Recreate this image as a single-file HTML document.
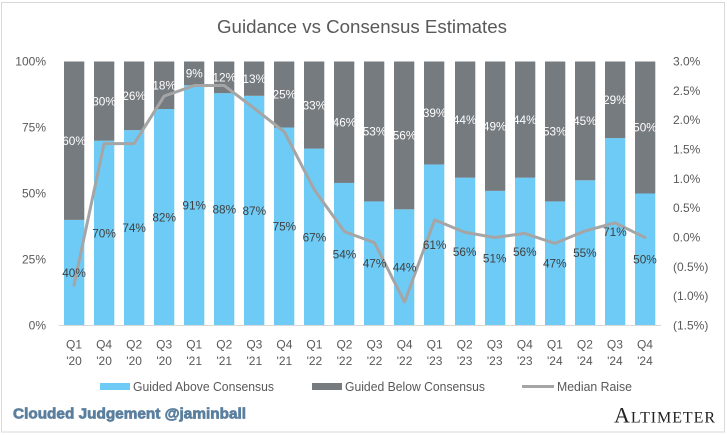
<!DOCTYPE html>
<html lang="en">
<head>
<meta charset="utf-8">
<title>Guidance vs Consensus Estimates</title>
<style>
html,body{margin:0;padding:0;background:#fff;}
body{width:727px;height:435px;overflow:hidden;}
svg{display:block;font-family:"Liberation Sans",sans-serif;}
</style>
</head>
<body>
<svg id="chart" width="727" height="435" viewBox="0 0 727 435" xmlns="http://www.w3.org/2000/svg">
  <rect x="0" y="0" width="727" height="435" fill="#ffffff"/>
  <rect x="1.5" y="2.5" width="723" height="429.5" fill="none" stroke="#d9d9d9" stroke-width="1"/>
  <text x="362" y="33" text-anchor="middle" font-size="18.5" fill="#595959" textLength="290" lengthAdjust="spacingAndGlyphs">Guidance vs Consensus Estimates</text>
  <g id="bars"></g>
  <line x1="58.5" y1="325.5" x2="661" y2="325.5" stroke="#d9d9d9" stroke-width="1"/>
  <g id="line-layer"></g>
  <g id="labels"></g>
  <g id="left-axis"></g>
  <g id="right-axis"></g>
  <g id="x-axis"></g>
  <g font-size="12.5" fill="#595959">
    <rect x="100" y="383" width="30" height="7" fill="#6ecbf5"/>
    <text x="133" y="391" textLength="141" lengthAdjust="spacingAndGlyphs">Guided Above Consensus</text>
    <rect x="312" y="383" width="30" height="7" fill="#767b80"/>
    <text x="345" y="391" textLength="140" lengthAdjust="spacingAndGlyphs">Guided Below Consensus</text>
    <line x1="522" y1="386.5" x2="554" y2="386.5" stroke="#a5a5a5" stroke-width="3"/>
    <text x="557" y="391" textLength="75" lengthAdjust="spacingAndGlyphs">Median Raise</text>
  </g>
  <text x="13" y="418.5" font-size="14.5" font-weight="700" fill="#5b7f9e" stroke="#5b7f9e" stroke-width="0.7" textLength="233" lengthAdjust="spacingAndGlyphs">Clouded Judgement @jaminball</text>
  <text x="614" y="422.3" font-family="'Liberation Serif',serif" font-size="16" fill="#222222" textLength="101" lengthAdjust="spacing"><tspan font-size="22">A</tspan>LTIMETER</text>
</svg>
<script>
const quarters = ["Q1","Q4","Q2","Q3","Q1","Q2","Q3","Q4","Q1","Q2","Q3","Q4","Q1","Q2","Q3","Q4","Q1","Q2","Q3","Q4"];
const years = ["'20","'20","'20","'20","'21","'21","'21","'21","'22","'22","'22","'22","'23","'23","'23","'23","'24","'24","'24","'24"];
const guidedAbove = [40,70,74,82,91,88,87,75,67,54,47,44,61,56,51,56,47,55,71,50];
const guidedBelow = [60,30,26,18,9,12,13,25,33,46,53,56,39,44,49,44,53,45,29,50];
const medianRaise = [-0.81,1.6,1.6,2.41,2.59,2.59,2.2,1.8,0.81,0.1,-0.09,-1.1,0.3,0.09,0,0.07,-0.1,0.11,0.25,0];
const leftTicks = [0,25,50,75,100];
const rightTicks = [-1.5,-1,-0.5,0,0.5,1,1.5,2,2.5,3];

const NS = 'http://www.w3.org/2000/svg';
const plotLeft = 59, bandWidth = 30.05, barWidth = 20.3;
const plotTop = 61.5, plotBottom = 325.5;
const xCenter = i => plotLeft + bandWidth * (i + 0.5);
const yLeft = v => plotBottom - (v / 100) * (plotBottom - plotTop);
const yRight = v => plotBottom - ((v + 1.5) / 4.5) * (plotBottom - plotTop);
const fmtRight = v => v < 0 ? '(' + Math.abs(v).toFixed(1) + '%)' : v.toFixed(1) + '%';

function make(tag, attrs, parent, text) {
  const el = document.createElementNS(NS, tag);
  for (const k in attrs) el.setAttribute(k, attrs[k]);
  if (text !== undefined) el.textContent = text;
  parent.appendChild(el);
  return el;
}

const barsG = document.getElementById('bars');
const labelsG = document.getElementById('labels');
const xG = document.getElementById('x-axis');
const leftG = document.getElementById('left-axis');
const rightG = document.getElementById('right-axis');
const lineG = document.getElementById('line-layer');

quarters.forEach((q, i) => {
  const x = Math.round(xCenter(i) - barWidth / 2);
  const a = guidedAbove[i], b = guidedBelow[i];

  const above = make('rect', {x: x, y: yLeft(a), width: barWidth, height: yLeft(0) - yLeft(a), fill: '#6ecbf5'}, barsG);
  
  

  const below = make('rect', {x: x, y: yLeft(a + b), width: barWidth, height: yLeft(a) - yLeft(a + b), fill: '#767b80'}, barsG);
  
  

  const la = make('text', {x: xCenter(i), y: yLeft(a / 2) + 4.2, 'text-anchor': 'middle', 'font-size': 11.8, fill: '#404040'}, labelsG, a + '%');
  
  

  const lb = make('text', {x: xCenter(i), y: yLeft(a + b / 2) + 4.2, 'text-anchor': 'middle', 'font-size': 11.8, fill: '#ffffff'}, labelsG, b + '%');
  
  

  const tq = make('text', {x: xCenter(i), y: 348.5, 'text-anchor': 'middle', 'font-size': 12, fill: '#595959'}, xG, q);
  
  

  const ty = make('text', {x: xCenter(i), y: 365, 'text-anchor': 'middle', 'font-size': 12, fill: '#595959'}, xG, years[i]);
  
  
});

const points = medianRaise.map((v, i) => xCenter(i) + ',' + yRight(v)).join(' ');
const medianLine = make('polyline', {points: points, fill: 'none', stroke: '#a5a5a5', 'stroke-width': 3, 'stroke-linejoin': 'round', 'stroke-linecap': 'round'}, lineG);



leftTicks.forEach(v => {
  const t = make('text', {x: 46, y: yLeft(v) + 4, 'text-anchor': 'end', 'font-size': 12, fill: '#595959'}, leftG, v + '%');
  
  
});

rightTicks.forEach(v => {
  const t = make('text', {x: 673, y: yRight(v) + 4, 'font-size': 12, fill: '#595959'}, rightG, fmtRight(v));
  
  
});
</script>
</body>
</html>
